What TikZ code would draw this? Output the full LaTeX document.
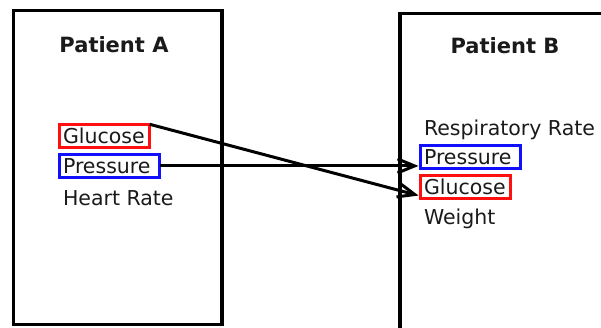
\documentclass[tikz,border=0pt]{standalone}
\usepackage{fontspec}
\setmainfont{DejaVu Sans}
\usetikzlibrary{arrows.meta,calc}
\definecolor{ink}{HTML}{1A1A1A}
\definecolor{boxred}{HTML}{FF1010}
\definecolor{boxblue}{HTML}{1010FF}
\begin{document}
\begin{tikzpicture}[x=1pt,y=-1pt,
  panel/.style={draw=black,line width=3.5pt,outer sep=0pt,anchor=north west},
  title/.style={font=\fontsize{21}{25}\selectfont\bfseries,text=ink,anchor=base},
  item/.style={font=\fontsize{20.5}{24}\selectfont,text=ink,anchor=base west,
    inner xsep=4pt,inner ysep=0pt,outer sep=0pt},
  tag/.style={item,line width=3pt,inner ysep=3.75pt,text height=15.25pt,
    text depth=0.5pt,text width=#1,align=left},
  link/.style={draw=black,line width=3pt,
    -{Straight Barb[length=17pt,width=14pt]},shorten >=1.5pt}]
\useasboundingbox (0,0) rectangle (601,327);
\clip (0,0) rectangle (601,327);

% patient panels
\node[panel,minimum width=208.7pt,minimum height=314pt] (pA) at (13.3,10.5) {};
\node[panel,minimum width=260pt,minimum height=340pt] (pB) at (400,13.5) {};

% titles
\node[title] (tA) at (114,52) {Patient A};
\node[title] (tB) at (505,53) {Patient B};

% Patient A measurements
\node[tag=82.75pt,draw=boxred] (gA) at (59,143.3) {Glucose};
\node[tag=92.75pt,draw=boxblue] (prA) at (59,173.3) {Pressure};
\node[item] (hA) at (59,205) {Heart Rate};

% Patient B measurements
\node[item] (rB) at (420,135) {Respiratory Rate};
\node[tag=92.75pt,draw=boxblue] (prB) at (420,164) {Pressure};
\node[tag=82.75pt,draw=boxred] (gB) at (420,194) {Glucose};
\node[item] (wB) at (420,224) {Weight};

% correspondences
\draw[link] (prA.east) -- (prA.east -| prB.west);
\draw[link] (gA.north east) -- ($(gB.south west)!0.1!(gB.north west)$);
\end{tikzpicture}
\end{document}
